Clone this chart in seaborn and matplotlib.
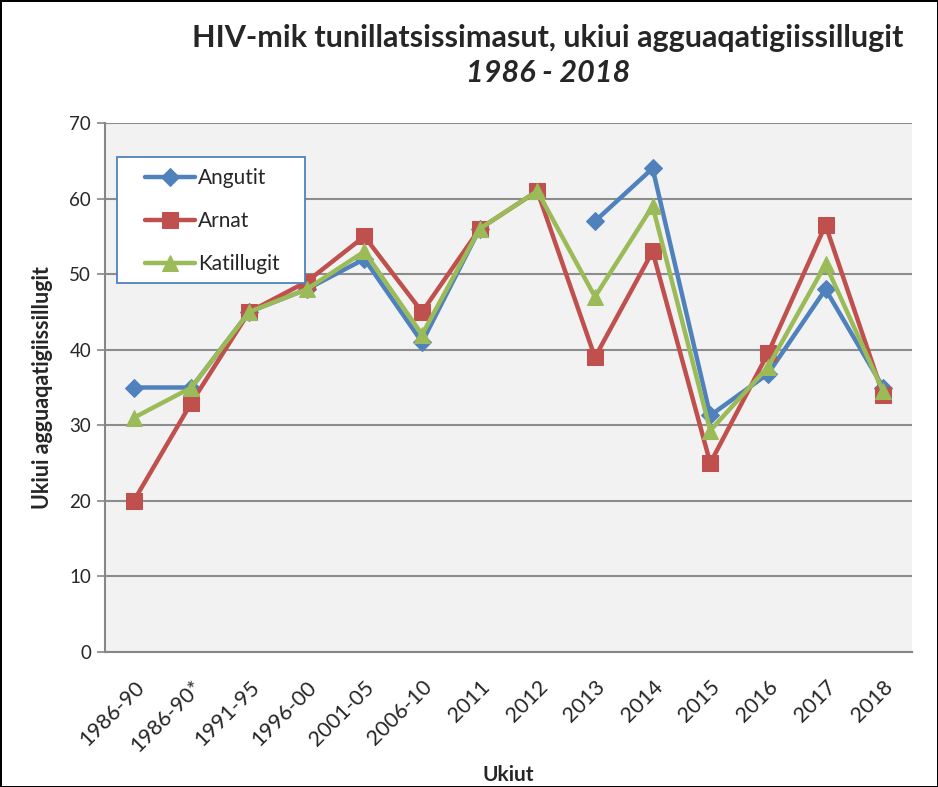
import matplotlib
matplotlib.use("Agg")
import matplotlib.pyplot as plt
from matplotlib.patches import Rectangle
import numpy as np
import pandas as pd
import seaborn as sns

# data
categories = ["1986-90", "1986-90*", "1991-95", "1996-00", "2001-05", "2006-10",
              "2011", "2012", "2013", "2014", "2015", "2016", "2017", "2018"]
angutit = [35, 35, 45, 48, 52, 41, 56, np.nan, 57, 64, 31.3, 36.8, 48, 35]
arnat = [20, 33, 45, 49, 55, 45, 56, 61, 39, 53, 25, 39.5, 56.5, 34]
katillugit = [31, 35, 45, 48, 53, 42, 56, 61, 47, 59, 29.3, 37.7, 51.3, 34.5]
series_names = ["Angutit", "Arnat", "Katillugit"]
yticks = [0, 10, 20, 30, 40, 50, 60, 70]

colors = {"Angutit": "#4F81BD", "Arnat": "#C0504D", "Katillugit": "#9BBB59"}
markers = {"Angutit": "D", "Arnat": "s", "Katillugit": "^"}
sizes = {"Angutit": 9, "Arnat": 11.5, "Katillugit": 12}

rows = []
for name, vals in zip(series_names, [angutit, arnat, katillugit]):
    seg = 0
    for i, v in enumerate(vals):
        if np.isnan(v):
            seg += 1
            continue
        rows.append({"pos": i, "value": v, "series": name, "seg": seg})
df = pd.DataFrame(rows)

sns.set_style("white")
plt.rcParams["font.family"] = ["Lato", "DejaVu Sans"]

fig = plt.figure(figsize=(9.38, 7.87), dpi=100)
fig.patch.set_edgecolor("black")
fig.patch.set_linewidth(2)
ax = fig.add_axes([105 / 938, 1 - 652 / 787, 807 / 938, 529 / 787])
ax.set_facecolor("#F2F2F2")

for name in series_names:
    sub = df[df["series"] == name]
    first = True
    for seg, part in sub.groupby("seg"):
        sns.lineplot(data=part, x="pos", y="value", ax=ax, color=colors[name],
                     marker=markers[name], markersize=sizes[name],
                     markeredgecolor=colors[name], linewidth=3.2,
                     label=name if first else None, estimator=None, sort=False)
        first = False

ax.set_xlim(-0.5, len(categories) - 0.5)
ax.set_ylim(0, 70)
ax.set_yticks(yticks)
ax.set_yticklabels([str(t) for t in yticks], fontsize=13.5)
ax.grid(axis="y", color="#8C8C8C", linewidth=1.5)
ax.set_axisbelow(True)

ax.set_xticks(range(len(categories)))
ax.set_xticklabels(categories, rotation=45, ha="right", rotation_mode="anchor",
                   fontsize=15.5)
ax.set_xticks(np.arange(-0.5, len(categories), 1.0), minor=True)
ax.tick_params(axis="x", which="major", length=0, pad=18)
ax.tick_params(axis="x", which="minor", length=6, color="#868686", width=1.2)
ax.tick_params(axis="y", which="major", length=6, color="#868686", width=1.2,
               left=True, pad=4)

for s in ["top", "right"]:
    ax.spines[s].set_visible(False)
for s in ["left", "bottom"]:
    ax.spines[s].set_color("#868686")
    ax.spines[s].set_linewidth(1.5)

ax.set_xlabel("Ukiut", fontsize=15, fontweight="bold")
ax.xaxis.set_label_coords(0.5, -0.213)
ax.set_ylabel("Ukiui agguaqatigiissillugit", fontsize=15.5, fontweight="bold",
              labelpad=12)

# legend box drawn as in the reference (wider than matplotlib's own frame)
ax.add_patch(Rectangle((12 / 807, 369 / 529), 188 / 807, 126 / 529,
                       transform=ax.transAxes, facecolor="white",
                       edgecolor="#4F81BD", linewidth=1.3, zorder=4.5))
leg = ax.legend(loc="upper left", bbox_to_anchor=(40 / 807, 0.914), fontsize=15,
                frameon=False, borderpad=0, labelspacing=1.1,
                handlelength=2.4, handletextpad=0.15, borderaxespad=0)

fig.text(548 / 938, 1 - 38 / 787, "HIV-mik tunillatsissimasut, ukiui agguaqatigiissillugit",
         ha="center", va="center", fontsize=22, fontweight="bold")
fig.text(548 / 938, 1 - 73 / 787, "1986 - 2018", ha="center", va="center",
         fontsize=22, fontweight="bold", style="italic")

fig.savefig("out.png", dpi=100)
